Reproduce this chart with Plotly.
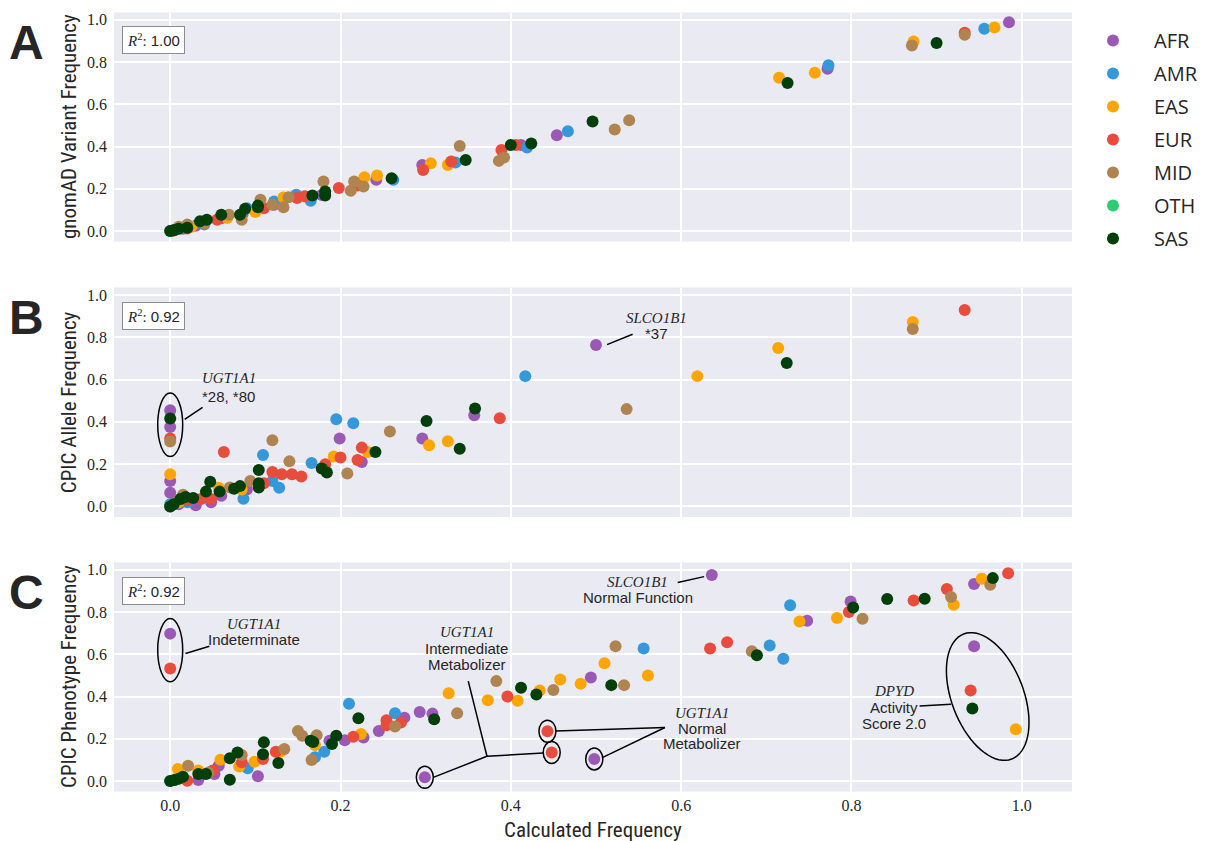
import math
import plotly.graph_objects as go

# ---------------- data ----------------
POPS = ["AFR", "AMR", "EAS", "EUR", "MID", "OTH", "SAS"]
COLORS = ["#9b59b6", "#3498db", "#ffa500", "#e74c3c", "#b08450", "#2ecc71", "#003f0a"]

# Panel A: calculated vs gnomAD variant frequency
A_AFR = [(0.003, 0.002), (0.015, 0.01), (0.03, 0.025), (0.06, 0.06), (0.085, 0.08), (0.122, 0.124), (0.178, 0.17),
         (0.242, 0.242), (0.296, 0.313), (0.412, 0.407), (0.454, 0.453), (0.772, 0.769), (0.985, 0.989)]
A_AMR = [(0.002, 0.001), (0.02, 0.015), (0.04, 0.03), (0.09, 0.108), (0.122, 0.14), (0.148, 0.171), (0.165, 0.143),
         (0.262, 0.242), (0.335, 0.324), (0.419, 0.395), (0.467, 0.472), (0.773, 0.785), (0.956, 0.958)]
A_EAS = [(0.005, 0.003), (0.025, 0.02), (0.067, 0.061), (0.1, 0.09), (0.133, 0.159), (0.228, 0.255), (0.243, 0.263),
         (0.306, 0.321), (0.326, 0.313), (0.715, 0.726), (0.757, 0.75), (0.873, 0.898), (0.968, 0.964)]
A_EUR = [(0.004, 0.002), (0.02, 0.012), (0.055, 0.053), (0.11, 0.108), (0.149, 0.156), (0.158, 0.164), (0.198, 0.203),
         (0.22, 0.215), (0.297, 0.289), (0.33, 0.329), (0.389, 0.383), (0.406, 0.407), (0.933, 0.939)]
A_MID = [(0.01, 0.02), (0.02, 0.03), (0.04, 0.035), (0.069, 0.077), (0.084, 0.053), (0.106, 0.148), (0.12, 0.124),
         (0.133, 0.112), (0.139, 0.16), (0.18, 0.234), (0.212, 0.19), (0.216, 0.234), (0.227, 0.211), (0.34, 0.402),
         (0.386, 0.332), (0.392, 0.348), (0.522, 0.481), (0.539, 0.524), (0.871, 0.879), (0.933, 0.929)]
A_OTH = [(0.0, 0.0), (0.01, 0.01)]
A_SAS = [(0.0, 0.0), (0.005, 0.005), (0.01, 0.01), (0.02, 0.015), (0.035, 0.046), (0.043, 0.053), (0.06, 0.077),
         (0.082, 0.077), (0.088, 0.105), (0.103, 0.112), (0.103, 0.12), (0.167, 0.168), (0.182, 0.187),
         (0.182, 0.168), (0.26, 0.25), (0.347, 0.336), (0.40, 0.407), (0.424, 0.414), (0.496, 0.519),
         (0.725, 0.701), (0.9, 0.89)]

# Panel B: calculated vs CPIC allele frequency
B_AFR = [(0.0, 0.455), (0.0, 0.376), (0.0, 0.12), (0.0, 0.065), (0.01, 0.01), (0.03, 0.005), (0.048, 0.02),
         (0.06, 0.05), (0.09, 0.08), (0.178, 0.18), (0.199, 0.321), (0.225, 0.21), (0.296, 0.321), (0.357, 0.431),
         (0.5, 0.763)]
B_AMR = [(0.0, 0.01), (0.02, 0.02), (0.086, 0.036), (0.109, 0.243), (0.12, 0.12), (0.128, 0.088), (0.166, 0.205),
         (0.195, 0.412), (0.215, 0.393), (0.417, 0.616)]
B_EAS = [(0.0, 0.152), (0.01, 0.02), (0.057, 0.088), (0.084, 0.08), (0.192, 0.236), (0.232, 0.257), (0.304, 0.289),
         (0.326, 0.308), (0.619, 0.616), (0.714, 0.749), (0.872, 0.872)]
B_EUR = [(0.0, 0.321), (0.02, 0.03), (0.036, 0.035), (0.048, 0.035), (0.063, 0.257), (0.11, 0.11), (0.12, 0.163),
         (0.131, 0.152), (0.143, 0.152), (0.154, 0.141), (0.182, 0.199), (0.2, 0.231), (0.22, 0.22), (0.225, 0.278),
         (0.387, 0.417), (0.933, 0.929)]
B_MID = [(0.0, 0.307), (0.015, 0.055), (0.01, 0.03), (0.07, 0.09), (0.094, 0.12), (0.12, 0.313), (0.14, 0.213),
         (0.208, 0.156), (0.258, 0.354), (0.536, 0.46), (0.872, 0.839)]
B_OTH = [(0.0, 0.0), (0.004, 0.01)]
B_SAS = [(0.0, 0.416), (0.0, 0.0), (0.004, 0.01), (0.012, 0.035), (0.018, 0.045), (0.027, 0.04), (0.042, 0.07),
         (0.047, 0.117), (0.058, 0.07), (0.075, 0.084), (0.082, 0.096), (0.104, 0.172), (0.104, 0.11),
         (0.104, 0.09), (0.178, 0.179), (0.184, 0.16), (0.241, 0.257), (0.301, 0.404), (0.34, 0.273),
         (0.358, 0.463), (0.724, 0.678)]

# Panel C: calculated vs CPIC phenotype frequency
C_AFR = [(0.0, 0.698), (0.033, 0.005), (0.052, 0.033), (0.057, 0.072), (0.103, 0.022), (0.187, 0.19), (0.205, 0.193),
         (0.227, 0.206), (0.245, 0.237), (0.275, 0.3), (0.293, 0.327), (0.308, 0.319), (0.299, 0.017),
         (0.494, 0.49), (0.498, 0.104), (0.636, 0.976), (0.748, 0.759), (0.799, 0.85), (0.944, 0.933),
         (0.944, 0.638)]
C_AMR = [(0.01, 0.02), (0.091, 0.06), (0.17, 0.112), (0.181, 0.138), (0.21, 0.366), (0.264, 0.321), (0.556, 0.627),
         (0.704, 0.642), (0.72, 0.579), (0.728, 0.832)]
C_EAS = [(0.009, 0.057), (0.033, 0.05), (0.059, 0.1), (0.081, 0.068), (0.099, 0.091), (0.13, 0.14), (0.17, 0.17),
         (0.224, 0.222), (0.327, 0.415), (0.373, 0.382), (0.408, 0.38), (0.434, 0.429), (0.458, 0.481),
         (0.482, 0.461), (0.51, 0.558), (0.561, 0.5), (0.739, 0.756), (0.783, 0.772), (0.92, 0.835),
         (0.953, 0.958), (0.993, 0.245)]
C_EUR = [(0.0, 0.533), (0.02, 0.001), (0.05, 0.05), (0.084, 0.088), (0.109, 0.104), (0.124, 0.138), (0.215, 0.209),
         (0.254, 0.288), (0.254, 0.264), (0.271, 0.277), (0.396, 0.4), (0.443, 0.236), (0.448, 0.135),
         (0.634, 0.627), (0.654, 0.657), (0.797, 0.8), (0.873, 0.855), (0.912, 0.909), (0.984, 0.984),
         (0.94, 0.429)]
C_MID = [(0.021, 0.072), (0.045, 0.04), (0.084, 0.123), (0.134, 0.151), (0.15, 0.237), (0.155, 0.214),
         (0.166, 0.099), (0.172, 0.217), (0.264, 0.258), (0.337, 0.321), (0.383, 0.473), (0.45, 0.431),
         (0.523, 0.638), (0.533, 0.454), (0.683, 0.615), (0.813, 0.769), (0.917, 0.871), (0.963, 0.929)]
C_OTH = [(0.0, 0.0), (0.005, 0.005)]
C_SAS = [(0.0, 0.0), (0.005, 0.005), (0.01, 0.01), (0.015, 0.02), (0.033, 0.033), (0.042, 0.033), (0.07, 0.006),
         (0.07, 0.108), (0.079, 0.135), (0.109, 0.127), (0.11, 0.183), (0.127, 0.085), (0.165, 0.19),
         (0.168, 0.185), (0.19, 0.175), (0.195, 0.214), (0.221, 0.297), (0.31, 0.292), (0.412, 0.442),
         (0.43, 0.41), (0.518, 0.454), (0.689, 0.596), (0.802, 0.822), (0.842, 0.862), (0.886, 0.863),
         (0.966, 0.961), (0.942, 0.343)]

PANEL_DATA = [
    [A_AFR, A_AMR, A_EAS, A_EUR, A_MID, A_OTH, A_SAS],
    [B_AFR, B_AMR, B_EAS, B_EUR, B_MID, B_OTH, B_SAS],
    [C_AFR, C_AMR, C_EAS, C_EUR, C_MID, C_OTH, C_SAS],
]
PANEL_LETTERS = ["A", "B", "C"]
Y_TITLES = ["gnomAD Variant Frequency", "CPIC Allele Frequency", "CPIC Phenotype Frequency"]
R2_TEXT = ["1.00", "0.92", "0.92"]
TICKS = [0.0, 0.2, 0.4, 0.6, 0.8, 1.0]
TICK_TEXT = ["0.0", "0.2", "0.4", "0.6", "0.8", "1.0"]

# ---------------- layout geometry ----------------
W, H = 1209, 841
PX_L, PX_R = 114, 1072
PANELS_PX = [(12.5, 241.5), (287.5, 517.0), (562.5, 791.5)]
X_RANGE = [-0.066, 1.059]
Y_RANGE = [-0.05, 1.035]
BG = "#eaeaf2"
TXT = "#262626"
SERIF = "Liberation Serif"
SANS = "Liberation Sans"
NARROW = "Liberation Sans Narrow, Roboto Condensed, Liberation Sans"

XS = (PX_R - PX_L) / (X_RANGE[1] - X_RANGE[0])


def ys(i):
    t, b = PANELS_PX[i]
    return (b - t) / (Y_RANGE[1] - Y_RANGE[0])


fig = go.Figure()

for i, pdata in enumerate(PANEL_DATA):
    sfx = "" if i == 0 else str(i + 1)
    for j, pts in enumerate(pdata):
        fig.add_trace(go.Scatter(
            x=[p[0] for p in pts], y=[p[1] for p in pts], mode="markers",
            name=POPS[j], legendgroup=POPS[j], showlegend=(i == 0),
            marker=dict(color=COLORS[j], size=12, line=dict(width=0)),
            xaxis="x" + sfx, yaxis="y" + sfx, hoverinfo="x+y+name",
        ))

layout = dict(
    width=W, height=H, margin=dict(l=0, r=0, t=0, b=0),
    paper_bgcolor="white", plot_bgcolor=BG, showlegend=True,
    legend=dict(x=1072 / W, y=1 - 21 / H, xanchor="left", yanchor="top",
                font=dict(family="Open Sans", size=20, color=TXT),
                bgcolor="rgba(0,0,0,0)", tracegroupgap=4, itemwidth=72),
)

for i in range(3):
    sfx = "" if i == 0 else str(i + 1)
    t, b = PANELS_PX[i]
    layout["xaxis" + sfx] = dict(
        domain=[PX_L / W, PX_R / W], range=X_RANGE, anchor="y" + sfx,
        tickvals=TICKS, ticktext=TICK_TEXT, showticklabels=(i == 2),
        showgrid=True, gridcolor="white", gridwidth=1.5, zeroline=False, showline=False,
        tickfont=dict(family=SERIF, size=16, color=TXT), ticks="", ticklabelstandoff=2,
    )
    layout["yaxis" + sfx] = dict(
        domain=[1 - b / H, 1 - t / H], range=Y_RANGE, anchor="x" + sfx,
        tickvals=TICKS, ticktext=TICK_TEXT,
        showgrid=True, gridcolor="white", gridwidth=1.5, zeroline=False, showline=False,
        tickfont=dict(family=SERIF, size=16, color=TXT), ticks="", ticklabelstandoff=6,
    )
fig.update_layout(**layout)

annotations = []
shapes = []

for i in range(3):
    t, b = PANELS_PX[i]
    annotations.append(dict(xref="paper", yref="paper", x=26 / W, y=1 - (t + 30) / H,
                            text="<b>%s</b>" % PANEL_LETTERS[i], showarrow=False,
                            xanchor="center", yanchor="middle",
                            font=dict(family=SANS, size=48, color=TXT)))
    annotations.append(dict(xref="paper", yref="paper", x=69 / W, y=1 - (t + b) / 2 / H,
                            text=Y_TITLES[i], showarrow=False, textangle=-90,
                            xanchor="center", yanchor="middle",
                            font=dict(family=NARROW, size=21, color=TXT)))
    annotations.append(dict(xref="paper", yref="paper", x=122 / W, y=1 - (t + 14) / H,
                            text="<span style='font-family:%s'><i>R</i><sup>2</sup>:</span> %s" % (SERIF, R2_TEXT[i]),
                            showarrow=False, xanchor="left", yanchor="top",
                            bgcolor="white", bordercolor="#8c8c8c", borderwidth=1, borderpad=4,
                            font=dict(family=SANS, size=15, color=TXT)))

annotations.append(dict(xref="paper", yref="paper", x=(PX_L + PX_R) / 2 / W, y=1 - 830 / H,
                        text="Calculated Frequency", showarrow=False, xanchor="center", yanchor="middle",
                        font=dict(family=NARROW, size=21, color=TXT)))


def ax(i):
    sfx = "" if i == 0 else str(i + 1)
    return "x" + sfx, "y" + sfx


def note(i, x, y, text, italic=False):
    xr, yr = ax(i)
    annotations.append(dict(xref=xr, yref=yr, x=x, y=y, showarrow=False,
                            text=("<i>%s</i>" % text) if italic else text,
                            xanchor="center", yanchor="middle",
                            font=dict(family=SERIF if italic else SANS, size=15, color=TXT)))


def seg(i, x0, y0, x1, y1):
    xr, yr = ax(i)
    shapes.append(dict(type="line", xref=xr, yref=yr, x0=x0, y0=y0, x1=x1, y1=y1,
                       line=dict(color="black", width=1.5)))


def ring(i, cx, cy, rx_px, ry_px):
    xr, yr = ax(i)
    rx = rx_px / XS
    ry = ry_px / ys(i)
    shapes.append(dict(type="circle", xref=xr, yref=yr, x0=cx - rx, x1=cx + rx, y0=cy - ry, y1=cy + ry,
                       line=dict(color="black", width=1.5)))


def tilted_ellipse(i, cx, cy, a_px, b_px, tilt_deg):
    xr, yr = ax(i)
    th = math.radians(tilt_deg)
    ux, uy = math.sin(th), math.cos(th)
    vx, vy = math.cos(th), -math.sin(th)
    pts = []
    for k in range(73):
        t = 2 * math.pi * k / 72
        px = a_px * math.cos(t) * ux + b_px * math.sin(t) * vx
        py = a_px * math.cos(t) * uy + b_px * math.sin(t) * vy
        pts.append((cx + px / XS, cy - py / ys(i)))
    path = "M " + " L ".join("%.5f,%.5f" % p for p in pts) + " Z"
    shapes.append(dict(type="path", xref=xr, yref=yr, path=path, line=dict(color="black", width=1.5)))


# Panel B annotations
ring(1, 0.0, 0.386, 12.5, 31.7)
seg(1, 0.017, 0.412, 0.038, 0.468)
note(1, 0.069, 0.606, "UGT1A1", italic=True)
note(1, 0.069, 0.522, "*28, *80")
seg(1, 0.513, 0.765, 0.543, 0.814)
note(1, 0.571, 0.893, "SLCO1B1", italic=True)
note(1, 0.571, 0.817, "*37")

# Panel C annotations
ring(2, 0.0, 0.62, 12.5, 31.7)
seg(2, 0.018, 0.604, 0.046, 0.638)
note(2, 0.098, 0.745, "UGT1A1", italic=True)
note(2, 0.098, 0.67, "Indeterminate")

note(2, 0.348, 0.704, "UGT1A1", italic=True)
note(2, 0.348, 0.626, "Intermediate")
note(2, 0.348, 0.552, "Metabolizer")
seg(2, 0.35, 0.473, 0.372, 0.117)
seg(2, 0.372, 0.117, 0.309, 0.017)
seg(2, 0.372, 0.117, 0.438, 0.132)
for (cx, cy) in [(0.299, 0.017), (0.448, 0.135), (0.443, 0.236), (0.498, 0.104)]:
    ring(2, cx, cy, 8.5, 11)

note(2, 0.624, 0.324, "UGT1A1", italic=True)
note(2, 0.624, 0.249, "Normal")
note(2, 0.624, 0.178, "Metabolizer")
seg(2, 0.581, 0.253, 0.453, 0.237)
seg(2, 0.581, 0.253, 0.508, 0.112)

note(2, 0.549, 0.945, "SLCO1B1", italic=True)
note(2, 0.549, 0.871, "Normal Function")
seg(2, 0.596, 0.94, 0.627, 0.968)

note(2, 0.85, 0.426, "DPYD", italic=True)
note(2, 0.85, 0.35, "Activity")
note(2, 0.85, 0.274, "Score 2.0")
seg(2, 0.88, 0.355, 0.917, 0.363)
tilted_ellipse(2, 0.960, 0.40, 67, 36, 21)

fig.update_layout(annotations=annotations, shapes=shapes)
fig.write_html("out.html", config={"displayModeBar": False},
               post_script="document.body.style.margin='0';document.body.style.overflow='hidden';")
